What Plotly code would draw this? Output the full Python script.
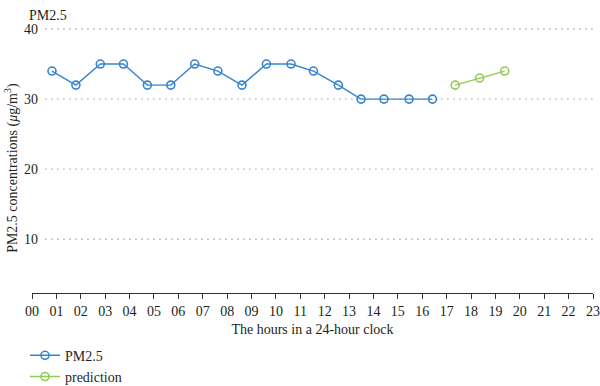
import plotly.graph_objects as go

hours_obs = [0.82, 1.80, 2.80, 3.75, 4.73, 5.69, 6.67, 7.62, 8.61, 9.61, 10.62,
             11.54, 12.56, 13.49, 14.43, 15.46, 16.42]
pm25 = [34, 32, 35, 35, 32, 32, 35, 34, 32, 35, 35, 34, 32, 30, 30, 30, 30]
hours_pred = [17.35, 18.35, 19.38]
prediction = [32, 33, 34]
x_tick_vals = list(range(24))
x_tick_text = [f"{h:02d}" for h in x_tick_vals]
y_tick_vals = [10, 20, 30, 40]

FONT = "Liberation Serif, Times New Roman, serif"
TXT = "#231f20"
BLUE = "#3585d0"
GREEN = "#90cc55"

fig = go.Figure()
fig.add_trace(go.Scatter(x=hours_obs, y=pm25, mode="lines+markers", name="PM2.5",
                         line=dict(color=BLUE, width=1.4),
                         marker=dict(symbol="circle-open", size=8, color=BLUE,
                                     line=dict(width=1.6, color=BLUE))))
fig.add_trace(go.Scatter(x=hours_pred, y=prediction, mode="lines+markers", name="prediction",
                         line=dict(color=GREEN, width=1.4),
                         marker=dict(symbol="circle-open", size=8, color=GREEN,
                                     line=dict(width=1.6, color=GREEN))))

GRID_START = 0.024
LABEL_RIGHT = 0.0143
for v in y_tick_vals:
    fig.add_shape(type="line", xref="paper", yref="y", x0=GRID_START, x1=1, y0=v, y1=v,
                  line=dict(color="#8a8a8a", width=1.3, dash="1px,5px"), layer="below")
    fig.add_annotation(text=str(v), xref="paper", yref="y", x=LABEL_RIGHT, y=v,
                       xanchor="right", yanchor="middle", showarrow=False,
                       font=dict(family=FONT, size=14, color=TXT))

fig.update_layout(
    width=600, height=386,
    margin=dict(l=32, r=7, t=15, b=93, autoexpand=False),
    paper_bgcolor="white", plot_bgcolor="white",
    font=dict(family=FONT, size=14, color=TXT),
    showlegend=True,
    legend=dict(x=-0.0125, y=-0.168, xanchor="left", yanchor="top",
                font=dict(family=FONT, size=14, color=TXT),
                tracegroupgap=0, itemwidth=30, bgcolor="rgba(0,0,0,0)"),
    xaxis=dict(range=[0, 23], tickvals=x_tick_vals, ticktext=x_tick_text,
               showline=True, linecolor="#333", linewidth=1,
               ticks="outside", ticklen=5, tickcolor="#333",
               showgrid=False, zeroline=False, automargin=False,
               tickfont=dict(size=14, color=TXT),
               title=dict(text="The hours in a 24-hour clock", font=dict(size=14, color=TXT),
                          standoff=6)),
    yaxis=dict(range=[2.33, 42], tickvals=y_tick_vals, showticklabels=False,
               showline=False, ticks="", showgrid=False, automargin=False,
               zeroline=False),
)
fig.add_annotation(text="PM2.5 concentrations (<i>μ</i>g/m<sup>3</sup>)",
                   xref="paper", yref="paper", x=-0.0357, y=0.45, textangle=-90,
                   xanchor="center", yanchor="middle", showarrow=False,
                   font=dict(family=FONT, size=14, color=TXT))
fig.add_annotation(text="PM2.5", xref="paper", yref="paper", x=-0.009, y=1.0,
                   xanchor="left", yanchor="middle", showarrow=False,
                   font=dict(family=FONT, size=14, color=TXT), yshift=0)

fig.write_html("out.html", config={"displayModeBar": False},
               post_script="document.body.style.margin='0';document.body.style.overflow='hidden';")
